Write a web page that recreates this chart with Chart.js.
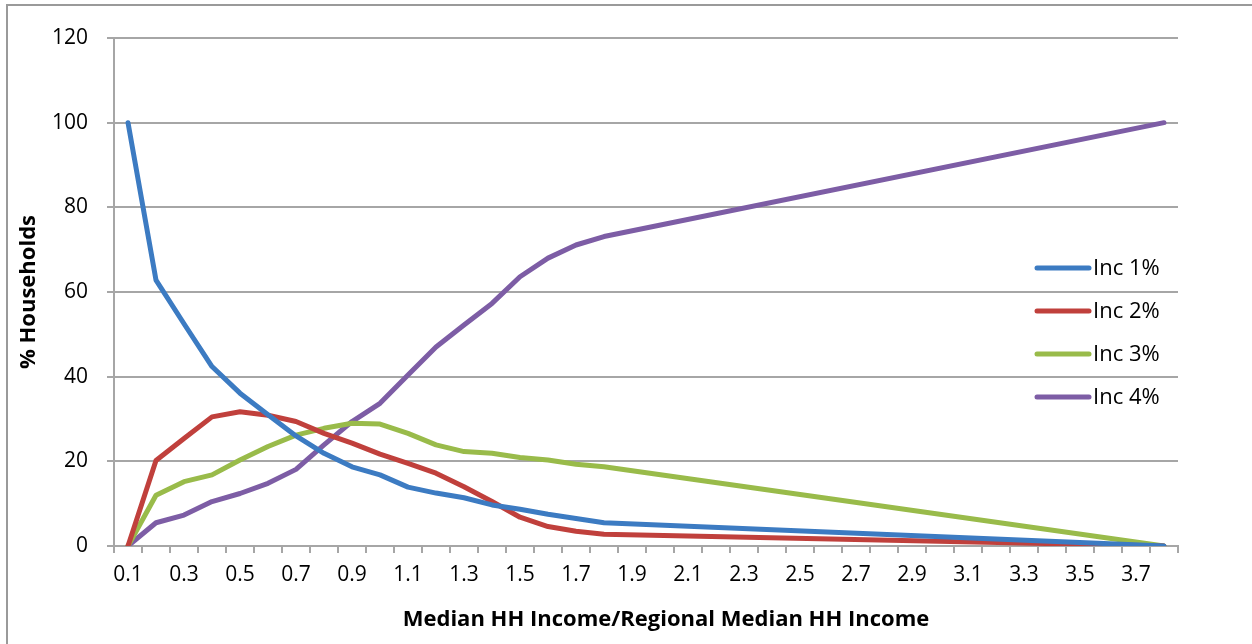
<!DOCTYPE html>
<html>
<head>
<meta charset="utf-8">
<script src="https://cdn.jsdelivr.net/npm/chart.js@4.4.0/dist/chart.umd.min.js"></script>
<style>
  html, body { margin: 0; padding: 0; background: #ffffff; }
  #wrap { position: relative; width: 1252px; height: 644px; }
  canvas { display: block; }
</style>
</head>
<body>
<div id="wrap"><canvas id="c" width="1252" height="644"></canvas></div>
<script>
// ---- data ----
const categories = ['0.1','0.2','0.3','0.4','0.5','0.6','0.7','0.8','0.9','1.0',
                    '1.1','1.2','1.3','1.4','1.5','1.6','1.7','1.8','1.9','2.0',
                    '2.1','2.2','2.3','2.4','2.5','2.6','2.7','2.8','2.9','3.0',
                    '3.1','3.2','3.3','3.4','3.5','3.6','3.7','3.8'];
const seriesNames = ['Inc 1%', 'Inc 2%', 'Inc 3%', 'Inc 4%'];
const inc1 = [100, 62.8, 52.5, 42.4, 36.1, 31.0, 26.0, 21.9, 18.7, 16.8, 13.9, 12.5, 11.4, 9.7, 8.7, 7.5, 6.5, 5.5,
              null, null, null, null, null, null, null, null, null, null, null, null, null, null, null, null, null, null, null, 0];
const inc2 = [0, 20.2, 25.4, 30.5, 31.7, 30.9, 29.4, 26.6, 24.3, 21.7, 19.5, 17.2, 14.0, 10.5, 6.8, 4.6, 3.5, 2.8,
              null, null, null, null, null, null, null, null, null, null, null, null, null, null, null, null, null, null, null, 0];
const inc3 = [0, 12.0, 15.2, 16.8, 20.3, 23.5, 26.2, 27.8, 29.0, 28.8, 26.6, 23.9, 22.3, 21.9, 20.9, 20.3, 19.3, 18.7,
              null, null, null, null, null, null, null, null, null, null, null, null, null, null, null, null, null, null, null, 0];
const inc4 = [0, 5.5, 7.3, 10.5, 12.4, 14.8, 18.1, 23.9, 29.4, 33.7, 40.4, 47.0, 52.2, 57.3, 63.6, 68.0, 71.1, 73.1,
              null, null, null, null, null, null, null, null, null, null, null, null, null, null, null, null, null, null, null, 100];
const yTicks = [0, 20, 40, 60, 80, 100, 120];
const xTitle = 'Median HH Income/Regional Median HH Income';
const yTitle = '% Households';

// ---- styling ----
const colors = ['#3C7BC2', '#C0403C', '#99BB4A', '#7D5DA5'];
const gridColor = '#A6A6A6';
const fontFamily = "'Open Sans', 'Noto Sans', sans-serif";
const tickFont = { family: fontFamily, size: 21 };
const titleFont = { family: fontFamily, size: 22, weight: 'bold' };

const allSeries = [inc1, inc2, inc3, inc4];
const datasets = allSeries.map((d, i) => ({
  label: seriesNames[i],
  data: d,
  borderColor: colors[i],
  backgroundColor: colors[i],
  borderWidth: 5,
  pointRadius: 0,
  pointHoverRadius: 0,
  tension: 0,
  spanGaps: true,
  borderCapStyle: 'round',
  borderJoinStyle: 'round',
  fill: false
}));

const frame = {
  id: 'frame',
  beforeDraw(chart) {
    const ctx = chart.ctx;
    ctx.save();
    ctx.fillStyle = '#ffffff';
    ctx.fillRect(0, 0, chart.width, chart.height);
    ctx.strokeStyle = '#9A9A9A';
    ctx.lineWidth = 2;
    ctx.strokeRect(7, 5, 1300, 700);
    ctx.restore();
  },
  afterDraw(chart) {
    const ctx = chart.ctx;
    ctx.save();
    ctx.fillStyle = '#000000';
    ctx.font = 'bold 22px ' + fontFamily;
    ctx.textAlign = 'center';
    ctx.textBaseline = 'middle';
    ctx.fillText(xTitle, 666, 620);
    ctx.restore();
  }
};

const sideLegend = {
  id: 'sideLegend',
  afterDatasetsDraw(chart) {
    const ctx = chart.ctx;
    ctx.save();
    chart.data.datasets.forEach((ds, i) => {
      const y = 268 + i * 43;
      ctx.strokeStyle = ds.borderColor;
      ctx.lineWidth = 5;
      ctx.lineCap = 'round';
      ctx.beginPath();
      ctx.moveTo(1037, y);
      ctx.lineTo(1089, y);
      ctx.stroke();
      ctx.fillStyle = '#000000';
      ctx.font = '22px ' + fontFamily;
      ctx.textAlign = 'left';
      ctx.textBaseline = 'middle';
      ctx.fillText(ds.label, 1093, y + 1);
    });
    ctx.restore();
  }
};

new Chart(document.getElementById('c'), {
  type: 'line',
  data: { labels: categories, datasets },
  options: {
    responsive: false,
    animation: false,
    events: [],
    layout: { padding: { left: 0, top: 38, right: 74, bottom: 0 } },
    plugins: { legend: { display: false }, tooltip: { enabled: false } },
    scales: {
      x: {
        type: 'category',
        offset: true,
        grid: { display: true, offset: true, drawOnChartArea: false, drawTicks: true, tickLength: 7, color: gridColor, lineWidth: 2 },
        border: { display: true, color: gridColor, width: 2 },
        ticks: {
          autoSkip: false, maxRotation: 0, minRotation: 0, color: '#000', font: tickFont, padding: 9,
          callback: function(v, i) { return i % 2 === 0 ? categories[i] : ''; }
        },
        title: { display: false },
        afterFit(s) { s.height = 98; }
      },
      y: {
        min: 0, max: 120,
        afterBuildTicks(s) { s.ticks = yTicks.map(v => ({ value: v })); },
        grid: { color: gridColor, lineWidth: 2, tickLength: 7, drawTicks: true },
        border: { display: true, color: gridColor, width: 2 },
        ticks: { color: '#000', font: tickFont, padding: 19 },
        title: { display: true, text: yTitle, color: '#000', font: titleFont, padding: { top: 16, bottom: 0 } },
        afterFit(s) { s.width = 114; }
      }
    }
  },
  plugins: [frame, sideLegend]
});
</script>
</body>
</html>
